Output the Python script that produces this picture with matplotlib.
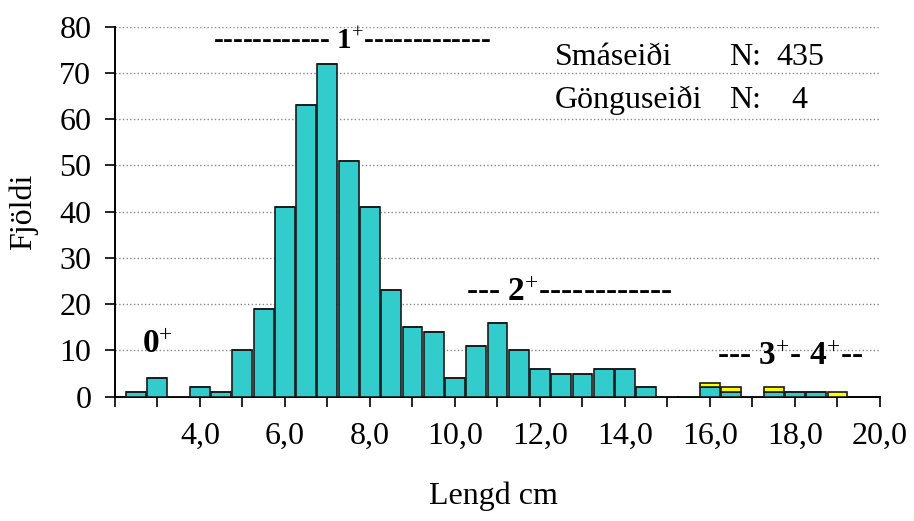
import matplotlib
matplotlib.use("Agg")
import matplotlib.pyplot as plt
from matplotlib.ticker import FixedLocator

plt.rcParams['font.family'] = ['Liberation Serif', 'DejaVu Serif']
plt.rcParams['mathtext.fontset'] = 'custom'
plt.rcParams['mathtext.rm'] = 'Liberation Serif'
plt.rcParams['mathtext.it'] = 'Liberation Serif:italic'
plt.rcParams['mathtext.bf'] = 'Liberation Serif:bold'

# length classes (cm), 0.5 cm bins
lengd = [2.5, 3.0, 3.5, 4.0, 4.5, 5.0, 5.5, 6.0, 6.5, 7.0, 7.5, 8.0,
         8.5, 9.0, 9.5, 10.0, 10.5, 11.0, 11.5, 12.0, 12.5, 13.0, 13.5, 14.0,
         14.5, 15.0, 15.5, 16.0, 16.5, 17.0, 17.5, 18.0, 18.5, 19.0]
# parr (Smáseiði)
smaseidi = [1, 4, 0, 2, 1, 10, 19, 41, 63, 72, 51, 41,
            23, 15, 14, 4, 11, 16, 10, 6, 5, 5, 6, 6,
            2, 0, 0, 2, 1, 0, 1, 1, 1, 0]
# smolts (Gönguseiði)
gonguseidi = [0, 0, 0, 0, 0, 0, 0, 0, 0, 0, 0, 0,
              0, 0, 0, 0, 0, 0, 0, 0, 0, 0, 0, 0,
              0, 0, 0, 1, 1, 0, 1, 0, 0, 1]

ytick_vals = [0, 10, 20, 30, 40, 50, 60, 70, 80]
xtick_vals = [2, 3, 4, 5, 6, 7, 8, 9, 10, 11, 12, 13, 14, 15, 16, 17, 18, 19, 20]
xtick_labels = ['' if (v % 2 or v < 4) else f'{v},0' for v in xtick_vals]

fig = plt.figure(figsize=(9.14, 5.21), dpi=100)
ax = fig.add_axes([0.1258, 0.2386, 0.837, 0.7102])

ax.bar(lengd, smaseidi, width=0.47, color='#33CCCC', edgecolor='#1a1a1a', linewidth=1.2, zorder=3)
ax.bar(lengd, gonguseidi, width=0.47, bottom=smaseidi, color='#FFFF00', edgecolor='#1a1a1a', linewidth=1.2, zorder=3)

ax.set_xlim(2, 20)
ax.set_ylim(0, 80)
ax.set_yticks(ytick_vals)
ax.xaxis.set_major_locator(FixedLocator(xtick_vals))
ax.set_xticklabels(xtick_labels)
ax.tick_params(axis='both', labelsize=23, direction='out', length=7, width=1.2)
ax.tick_params(axis='y', pad=10)
ax.tick_params(axis='x', pad=11)

ax.yaxis.grid(True, linestyle=':', color='#888888', linewidth=1.0, zorder=0)
ax.set_axisbelow(True)
for s in ['top', 'right']:
    ax.spines[s].set_visible(False)
for s in ['left', 'bottom']:
    ax.spines[s].set_linewidth(1.4)

ax.set_ylabel('Fjöldi', fontsize=23)
ax.yaxis.set_label_coords(-0.10, 0.5)
fig.text(0.54, 0.048, 'Lengd cm', fontsize=23, ha='center', va='center')

# age group annotations
ax.text(2.63, 9.4, r'0$^{+}$', fontsize=24, fontweight='bold', ha='left', va='baseline')
ax.text(4.3, 75.1, r'------------ 1$^{+}$-------------', fontsize=21, fontweight='bold', ha='left', va='baseline')
ax.text(10.27, 20.7, r'--- 2$^{+}$------------', fontsize=24, fontweight='bold', ha='left', va='baseline')
ax.text(16.17, 6.85, r'--- 3$^{+}$- 4$^{+}$--', fontsize=24, fontweight='bold', ha='left', va='baseline')

# N counts
ax.text(12.34, 71.7, 'Smáseiði', fontsize=23, ha='left', va='baseline')
ax.text(16.45, 71.7, 'N:', fontsize=23, ha='left', va='baseline')
ax.text(17.56, 71.7, '435', fontsize=23, ha='left', va='baseline')
ax.text(12.34, 62.4, 'Gönguseiði', fontsize=23, ha='left', va='baseline')
ax.text(16.45, 62.4, 'N:', fontsize=23, ha='left', va='baseline')
ax.text(17.91, 62.4, '4', fontsize=23, ha='left', va='baseline')

fig.savefig('out.png', dpi=100)
